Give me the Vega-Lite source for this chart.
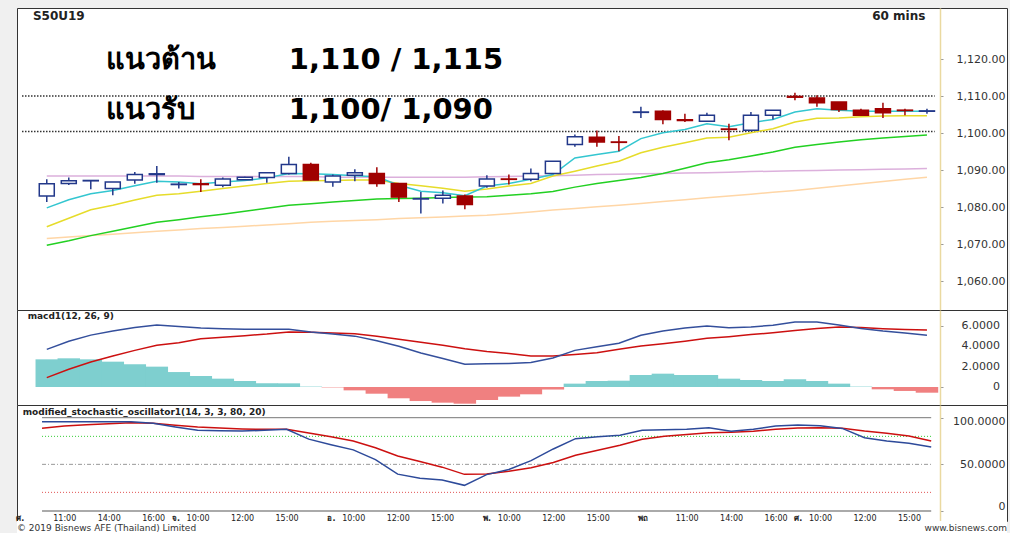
{
  "$schema": "https://vega.github.io/schema/vega-lite/v6.json",
  "background": "#f0f0f0",
  "padding": {"left": 15, "top": 7, "right": 5, "bottom": 0},
  "spacing": 0,
  "bounds": "flush",
  "config": {
    "view": {"stroke": "#333", "strokeWidth": 1, "fill": "white"},
    "font": "DejaVu Sans",
    "axis": {"labelFont": "DejaVu Sans", "labelColor": "#333", "grid": false, "zindex": 2, "labelOverlap": false, "labelSeparation": 0}
  },
  "datasets": {
    "candles": [
      {"i":1,"open":1083.0,"high":1087.5,"low":1081.4,"close":1086.3},
      {"i":2,"open":1086.4,"high":1088.0,"low":1086.0,"close":1087.1},
      {"i":3,"open":1087.1,"high":1087.3,"low":1084.8,"close":1087.2},
      {"i":4,"open":1085.0,"high":1086.8,"low":1083.2,"close":1086.8},
      {"i":5,"open":1087.3,"high":1089.5,"low":1086.3,"close":1088.8},
      {"i":6,"open":1088.8,"high":1091.1,"low":1086.6,"close":1089.0},
      {"i":7,"open":1086.1,"high":1086.8,"low":1085.0,"close":1086.2},
      {"i":8,"open":1086.3,"high":1087.5,"low":1084.1,"close":1086.1},
      {"i":9,"open":1085.9,"high":1088.0,"low":1085.4,"close":1087.6},
      {"i":10,"open":1087.4,"high":1088.2,"low":1087.3,"close":1088.1},
      {"i":11,"open":1088.0,"high":1089.4,"low":1086.6,"close":1089.3},
      {"i":12,"open":1089.1,"high":1093.6,"low":1088.8,"close":1091.5},
      {"i":13,"open":1091.5,"high":1092.0,"low":1087.2,"close":1087.3},
      {"i":14,"open":1086.8,"high":1088.8,"low":1085.5,"close":1088.4},
      {"i":15,"open":1088.6,"high":1090.2,"low":1087.0,"close":1089.3},
      {"i":16,"open":1089.1,"high":1090.8,"low":1085.5,"close":1086.4},
      {"i":17,"open":1086.4,"high":1086.5,"low":1081.4,"close":1082.7},
      {"i":18,"open":1082.2,"high":1084.1,"low":1078.3,"close":1082.3},
      {"i":19,"open":1082.4,"high":1084.5,"low":1081.0,"close":1083.2},
      {"i":20,"open":1083.0,"high":1083.4,"low":1079.4,"close":1080.7},
      {"i":21,"open":1085.7,"high":1088.6,"low":1085.2,"close":1087.6},
      {"i":22,"open":1087.6,"high":1088.8,"low":1086.1,"close":1087.5},
      {"i":23,"open":1087.5,"high":1090.4,"low":1087.0,"close":1089.1},
      {"i":24,"open":1089.1,"high":1092.4,"low":1089.1,"close":1092.4},
      {"i":25,"open":1096.9,"high":1099.6,"low":1096.3,"close":1099.0},
      {"i":26,"open":1098.9,"high":1100.7,"low":1096.3,"close":1097.6},
      {"i":27,"open":1097.6,"high":1099.2,"low":1095.1,"close":1097.5},
      {"i":28,"open":1105.6,"high":1107.1,"low":1104.1,"close":1105.7},
      {"i":29,"open":1105.9,"high":1106.2,"low":1102.4,"close":1103.7},
      {"i":30,"open":1103.6,"high":1105.2,"low":1103.0,"close":1103.4},
      {"i":31,"open":1103.2,"high":1105.5,"low":1103.2,"close":1104.8},
      {"i":32,"open":1101.1,"high":1102.5,"low":1098.1,"close":1101.0},
      {"i":33,"open":1100.8,"high":1105.7,"low":1100.5,"close":1104.8},
      {"i":34,"open":1104.8,"high":1106.2,"low":1103.7,"close":1106.2},
      {"i":35,"open":1109.9,"high":1110.9,"low":1108.9,"close":1109.7},
      {"i":36,"open":1109.5,"high":1110.2,"low":1107.1,"close":1108.2},
      {"i":37,"open":1108.4,"high":1108.4,"low":1105.7,"close":1106.4},
      {"i":38,"open":1106.2,"high":1106.6,"low":1104.8,"close":1104.8},
      {"i":39,"open":1106.6,"high":1108.2,"low":1104.1,"close":1105.5},
      {"i":40,"open":1106.2,"high":1106.6,"low":1104.8,"close":1106.1},
      {"i":41,"open":1105.9,"high":1106.6,"low":1105.2,"close":1106.0}
    ],
    "ma": [
      {"i":1,"fast":1079.8,"mid":1074.7,"slow":1069.7,"pink":1088.4,"long":1071.5},
      {"i":2,"fast":1082.0,"mid":1077.0,"slow":1070.9,"pink":1088.4,"long":1071.9},
      {"i":3,"fast":1083.6,"mid":1079.3,"slow":1072.3,"pink":1088.4,"long":1072.3},
      {"i":4,"fast":1084.5,"mid":1080.5,"slow":1073.5,"pink":1088.4,"long":1072.7},
      {"i":5,"fast":1085.8,"mid":1081.9,"slow":1074.7,"pink":1088.4,"long":1073.1},
      {"i":6,"fast":1087.0,"mid":1083.2,"slow":1075.9,"pink":1088.4,"long":1073.5},
      {"i":7,"fast":1086.8,"mid":1083.6,"slow":1076.6,"pink":1088.4,"long":1073.8},
      {"i":8,"fast":1086.3,"mid":1084.3,"slow":1077.4,"pink":1088.3,"long":1074.2},
      {"i":9,"fast":1086.8,"mid":1085.0,"slow":1078.1,"pink":1088.3,"long":1074.5},
      {"i":10,"fast":1087.2,"mid":1085.7,"slow":1078.9,"pink":1088.3,"long":1074.8},
      {"i":11,"fast":1087.9,"mid":1086.4,"slow":1079.7,"pink":1088.3,"long":1075.2},
      {"i":12,"fast":1089.1,"mid":1087.0,"slow":1080.5,"pink":1088.3,"long":1075.5},
      {"i":13,"fast":1089.0,"mid":1087.1,"slow":1080.9,"pink":1088.3,"long":1075.9},
      {"i":14,"fast":1088.8,"mid":1087.2,"slow":1081.4,"pink":1088.1,"long":1076.2},
      {"i":15,"fast":1088.5,"mid":1087.3,"slow":1081.8,"pink":1088.1,"long":1076.4},
      {"i":16,"fast":1088.2,"mid":1087.3,"slow":1082.2,"pink":1088.1,"long":1076.6},
      {"i":17,"fast":1085.9,"mid":1086.4,"slow":1082.3,"pink":1088.1,"long":1076.9},
      {"i":18,"fast":1084.3,"mid":1085.8,"slow":1082.4,"pink":1088.1,"long":1077.1},
      {"i":19,"fast":1083.9,"mid":1085.1,"slow":1082.6,"pink":1088.1,"long":1077.3},
      {"i":20,"fast":1083.1,"mid":1084.3,"slow":1082.7,"pink":1088.1,"long":1077.6},
      {"i":21,"fast":1085.7,"mid":1084.9,"slow":1082.8,"pink":1088.2,"long":1077.8},
      {"i":22,"fast":1086.4,"mid":1085.7,"slow":1083.2,"pink":1088.3,"long":1078.2},
      {"i":23,"fast":1087.5,"mid":1086.4,"slow":1083.6,"pink":1088.4,"long":1078.7},
      {"i":24,"fast":1088.8,"mid":1088.4,"slow":1084.2,"pink":1088.5,"long":1079.2},
      {"i":25,"fast":1093.3,"mid":1089.7,"slow":1085.4,"pink":1088.6,"long":1079.6},
      {"i":26,"fast":1094.2,"mid":1091.1,"slow":1086.4,"pink":1088.8,"long":1080.1},
      {"i":27,"fast":1095.1,"mid":1092.4,"slow":1087.2,"pink":1088.9,"long":1080.5},
      {"i":28,"fast":1098.5,"mid":1094.7,"slow":1088.0,"pink":1089.0,"long":1081.0},
      {"i":29,"fast":1100.1,"mid":1096.2,"slow":1089.1,"pink":1089.1,"long":1081.5},
      {"i":30,"fast":1101.0,"mid":1097.4,"slow":1090.5,"pink":1089.2,"long":1082.0},
      {"i":31,"fast":1102.5,"mid":1098.7,"slow":1092.0,"pink":1089.3,"long":1082.5},
      {"i":32,"fast":1101.7,"mid":1098.9,"slow":1092.8,"pink":1089.4,"long":1083.0},
      {"i":33,"fast":1102.8,"mid":1100.1,"slow":1093.8,"pink":1089.6,"long":1083.5},
      {"i":34,"fast":1103.7,"mid":1101.2,"slow":1094.9,"pink":1089.7,"long":1084.0},
      {"i":35,"fast":1105.7,"mid":1103.0,"slow":1096.2,"pink":1089.8,"long":1084.5},
      {"i":36,"fast":1106.6,"mid":1104.0,"slow":1096.9,"pink":1089.9,"long":1085.1},
      {"i":37,"fast":1106.2,"mid":1104.1,"slow":1097.6,"pink":1090.0,"long":1085.7},
      {"i":38,"fast":1105.9,"mid":1104.4,"slow":1098.2,"pink":1090.1,"long":1086.3},
      {"i":39,"fast":1105.9,"mid":1104.6,"slow":1098.7,"pink":1090.2,"long":1086.9},
      {"i":40,"fast":1105.9,"mid":1104.7,"slow":1099.1,"pink":1090.3,"long":1087.5},
      {"i":41,"fast":1105.9,"mid":1104.7,"slow":1099.5,"pink":1090.4,"long":1088.1}
    ],
    "macd": [
      {"i":1,"macd":3.7,"signal":0.92,"hist":2.72},
      {"i":2,"macd":4.5,"signal":1.75,"hist":2.82},
      {"i":3,"macd":5.1,"signal":2.45,"hist":2.72},
      {"i":4,"macd":5.5,"signal":3.05,"hist":2.49},
      {"i":5,"macd":5.85,"signal":3.6,"hist":2.23},
      {"i":6,"macd":6.1,"signal":4.1,"hist":2.0},
      {"i":7,"macd":5.95,"signal":4.35,"hist":1.47},
      {"i":8,"macd":5.8,"signal":4.75,"hist":1.08},
      {"i":9,"macd":5.72,"signal":4.9,"hist":0.82},
      {"i":10,"macd":5.67,"signal":5.05,"hist":0.59},
      {"i":11,"macd":5.67,"signal":5.2,"hist":0.36},
      {"i":12,"macd":5.67,"signal":5.41,"hist":0.36},
      {"i":13,"macd":5.4,"signal":5.38,"hist":0.04},
      {"i":14,"macd":5.2,"signal":5.3,"hist":-0.04},
      {"i":15,"macd":5.0,"signal":5.24,"hist":-0.33},
      {"i":16,"macd":4.55,"signal":5.0,"hist":-0.66},
      {"i":17,"macd":4.0,"signal":4.7,"hist":-1.11},
      {"i":18,"macd":3.35,"signal":4.4,"hist":-1.38},
      {"i":19,"macd":2.8,"signal":4.1,"hist":-1.54},
      {"i":20,"macd":2.23,"signal":3.77,"hist":-1.64},
      {"i":21,"macd":2.28,"signal":3.5,"hist":-1.28},
      {"i":22,"macd":2.32,"signal":3.3,"hist":-0.95},
      {"i":23,"macd":2.4,"signal":3.05,"hist":-0.72},
      {"i":24,"macd":2.85,"signal":3.05,"hist":-0.25},
      {"i":25,"macd":3.6,"signal":3.2,"hist":0.33},
      {"i":26,"macd":3.95,"signal":3.37,"hist":0.59},
      {"i":27,"macd":4.3,"signal":3.7,"hist":0.62},
      {"i":28,"macd":5.08,"signal":4.03,"hist":1.18},
      {"i":29,"macd":5.5,"signal":4.25,"hist":1.31},
      {"i":30,"macd":5.8,"signal":4.5,"hist":1.18},
      {"i":31,"macd":6.0,"signal":4.79,"hist":1.18},
      {"i":32,"macd":5.83,"signal":4.95,"hist":0.82},
      {"i":33,"macd":5.9,"signal":5.15,"hist":0.69},
      {"i":34,"macd":6.07,"signal":5.34,"hist":0.59},
      {"i":35,"macd":6.4,"signal":5.55,"hist":0.76},
      {"i":36,"macd":6.4,"signal":5.75,"hist":0.59},
      {"i":37,"macd":6.1,"signal":5.9,"hist":0.33},
      {"i":38,"macd":5.75,"signal":5.85,"hist":0.04},
      {"i":39,"macd":5.5,"signal":5.73,"hist":-0.23},
      {"i":40,"macd":5.3,"signal":5.65,"hist":-0.39},
      {"i":41,"macd":5.08,"signal":5.6,"hist":-0.56}
    ],
    "macdticks": [
      {"tick": 0, "label": "0"},
      {"tick": 2, "label": "2.0000"},
      {"tick": 4, "label": "4.0000"},
      {"tick": 6, "label": "6.0000"}
    ],
    "stoch": [
      {"i":1,"k":95.7,"d":88.6},{"i":2,"k":95.7,"d":91.2},{"i":3,"k":95.7,"d":92.5},
      {"i":4,"k":95.7,"d":93.5},{"i":5,"k":95.7,"d":94.5},{"i":6,"k":94.0,"d":94.0},
      {"i":7,"k":90.0,"d":92.0},{"i":8,"k":86.5,"d":90.0},{"i":9,"k":86.0,"d":89.0},
      {"i":10,"k":85.7,"d":88.0},{"i":11,"k":86.5,"d":87.5},{"i":12,"k":87.5,"d":87.5},
      {"i":13,"k":77.0,"d":83.5},{"i":14,"k":71.0,"d":79.5},{"i":15,"k":65.5,"d":75.0},
      {"i":16,"k":55.0,"d":67.8},{"i":17,"k":39.5,"d":59.0},{"i":18,"k":35.0,"d":53.0},
      {"i":19,"k":33.2,"d":47.0},{"i":20,"k":27.5,"d":39.3},{"i":21,"k":39.0,"d":39.6},
      {"i":22,"k":44.5,"d":42.5},{"i":23,"k":54.0,"d":46.3},{"i":24,"k":66.5,"d":52.0},
      {"i":25,"k":77.5,"d":59.7},{"i":26,"k":79.6,"d":65.0},{"i":27,"k":81.1,"d":70.5},
      {"i":28,"k":86.5,"d":76.8},{"i":29,"k":87.1,"d":80.2},{"i":30,"k":87.5,"d":82.0},
      {"i":31,"k":89.3,"d":83.9},{"i":32,"k":85.5,"d":84.5},{"i":33,"k":87.5,"d":85.5},
      {"i":34,"k":91.0,"d":87.5},{"i":35,"k":92.2,"d":89.0},{"i":36,"k":91.3,"d":89.3},
      {"i":37,"k":88.5,"d":88.7},{"i":38,"k":78.5,"d":85.7},{"i":39,"k":75.0,"d":83.3},
      {"i":40,"k":72.6,"d":80.4},{"i":41,"k":68.6,"d":75.0}
    ],
    "mainlevels": [{"level": 1110}, {"level": 1100.4}],
    "stochtop": [{"level": 100}],
    "stoch80": [{"level": 80}],
    "stoch50": [{"level": 50}],
    "stoch20": [{"level": 20}],
    "stoch0": [{"level": 0}],
    "one": [{"n": 1}]
  },
  "vconcat": [
    {
      "width": 990,
      "height": 302,
      "layer": [
        {
          "data": {"name": "mainlevels"},
          "mark": {"type": "rule", "color": "#333", "strokeDash": [1.5, 1.5], "strokeWidth": 1.5},
          "encoding": {
            "x": {"datum": -0.126, "type": "quantitative", "scale": {"domain": [-0.126, 44.41], "nice": false, "zero": false}, "axis": null},
            "x2": {"datum": 41.35},
            "y": {"field": "level", "type": "quantitative", "title": null, "scale": {"domain": [1052.2, 1133.8], "nice": false, "zero": false},
              "axis": {"orient": "right", "offset": -67, "title": null, "values": [1060, 1070, 1080, 1090, 1100, 1110, 1120], "format": ",.2f", "labelAlign": "right", "labelBaseline": "middle", "labelPadding": 62, "tickSize": 3, "tickColor": "#999", "domainColor": "#ead9a0", "domainWidth": 1.5, "labelFontSize": 11, "labelFlush": false, "labelOverlap": false}}
          }
        },
        {"data": {"name": "ma"}, "mark": {"type": "line", "color": "#ffd6a6", "strokeWidth": 1.5}, "encoding": {"x": {"field": "i", "type": "quantitative", "title": null}, "y": {"field": "long", "type": "quantitative", "title": null}}},
        {"data": {"name": "ma"}, "mark": {"type": "line", "color": "#dcb0dc", "strokeWidth": 1.5}, "encoding": {"x": {"field": "i", "type": "quantitative", "title": null}, "y": {"field": "pink", "type": "quantitative", "title": null}}},
        {"data": {"name": "ma"}, "mark": {"type": "line", "color": "#22d022", "strokeWidth": 1.5}, "encoding": {"x": {"field": "i", "type": "quantitative", "title": null}, "y": {"field": "slow", "type": "quantitative", "title": null}}},
        {"data": {"name": "ma"}, "mark": {"type": "line", "color": "#e6dc2a", "strokeWidth": 1.5}, "encoding": {"x": {"field": "i", "type": "quantitative", "title": null}, "y": {"field": "mid", "type": "quantitative", "title": null}}},
        {"data": {"name": "ma"}, "mark": {"type": "line", "color": "#33c6d0", "strokeWidth": 1.5}, "encoding": {"x": {"field": "i", "type": "quantitative", "title": null}, "y": {"field": "fast", "type": "quantitative", "title": null}}},
        {
          "data": {"name": "candles"},
          "mark": {"type": "rule", "strokeWidth": 1.5},
          "encoding": {
            "x": {"field": "i", "type": "quantitative", "title": null},
            "y": {"field": "low", "type": "quantitative", "title": null},
            "y2": {"field": "high"},
            "stroke": {"condition": {"test": "datum.close >= datum.open", "value": "#22388a"}, "value": "#a00000"}
          }
        },
        {
          "data": {"name": "candles"},
          "mark": {"type": "bar", "size": 15, "strokeWidth": 1.5},
          "encoding": {
            "x": {"field": "i", "type": "quantitative", "title": null},
            "y": {"field": "open", "type": "quantitative", "title": null},
            "y2": {"field": "close"},
            "fill": {"condition": {"test": "datum.close >= datum.open", "value": "white"}, "value": "#a00000"},
            "stroke": {"condition": {"test": "datum.close >= datum.open", "value": "#22388a"}, "value": "#a00000"}
          }
        },
        {"data": {"name": "one"}, "mark": {"type": "text", "text": "S50U19", "align": "left", "baseline": "alphabetic", "fontWeight": "bold", "fontSize": 12, "color": "#222"}, "encoding": {"x": {"datum": 0.37, "type": "quantitative"}, "y": {"datum": 1130.5, "type": "quantitative"}}},
        {"data": {"name": "one"}, "mark": {"type": "text", "text": "60 mins", "align": "right", "baseline": "alphabetic", "fontWeight": "bold", "fontSize": 12, "color": "#222"}, "encoding": {"x": {"datum": 40.93, "type": "quantitative"}, "y": {"datum": 1130.5, "type": "quantitative"}}},
        {"data": {"name": "one"}, "mark": {"type": "text", "text": "แนวต้าน", "align": "left", "baseline": "alphabetic", "fontWeight": "bold", "fontSize": 29, "color": "#000"}, "encoding": {"x": {"datum": 3.7, "type": "quantitative"}, "y": {"datum": 1117.3, "type": "quantitative"}}},
        {"data": {"name": "one"}, "mark": {"type": "text", "text": "1,110 / 1,115", "align": "left", "baseline": "alphabetic", "fontWeight": "bold", "fontSize": 29, "color": "#000"}, "encoding": {"x": {"datum": 12.0, "type": "quantitative"}, "y": {"datum": 1117.3, "type": "quantitative"}}},
        {"data": {"name": "one"}, "mark": {"type": "text", "text": "แนวรับ", "align": "left", "baseline": "alphabetic", "fontWeight": "bold", "fontSize": 29, "color": "#000"}, "encoding": {"x": {"datum": 3.7, "type": "quantitative"}, "y": {"datum": 1103.8, "type": "quantitative"}}},
        {"data": {"name": "one"}, "mark": {"type": "text", "text": "1,100/ 1,090", "align": "left", "baseline": "alphabetic", "fontWeight": "bold", "fontSize": 29, "color": "#000"}, "encoding": {"x": {"datum": 12.0, "type": "quantitative"}, "y": {"datum": 1103.8, "type": "quantitative"}}}
      ]
    },
    {
      "width": 990,
      "height": 95,
      "layer": [
        {
          "data": {"name": "macd"},
          "mark": {"type": "bar", "size": 22.5},
          "encoding": {
            "x": {"field": "i", "type": "quantitative", "scale": {"domain": [-0.126, 44.41], "nice": false, "zero": false}, "axis": null},
            "y": {"field": "hist", "type": "quantitative", "title": null, "scale": {"domain": [-1.77, 7.57], "nice": false, "zero": false},
              "axis": {"orient": "right", "offset": -67, "title": null, "values": [0, 2, 4, 6], "labels": false, "tickSize": 3, "tickColor": "#999", "domainColor": "#ead9a0", "domainWidth": 1.5}},
            "color": {"condition": {"test": "datum.hist >= 0", "value": "#7ecfcf"}, "value": "#f08080"}
          }
        },
        {"data": {"name": "macd"}, "mark": {"type": "line", "color": "#cc1010", "strokeWidth": 1.5}, "encoding": {"x": {"field": "i", "type": "quantitative", "title": null}, "y": {"field": "signal", "type": "quantitative", "title": null}}},
        {"data": {"name": "macd"}, "mark": {"type": "line", "color": "#344f9c", "strokeWidth": 1.5}, "encoding": {"x": {"field": "i", "type": "quantitative", "title": null}, "y": {"field": "macd", "type": "quantitative", "title": null}}},
        {"data": {"name": "macdticks"}, "mark": {"type": "text", "align": "right", "baseline": "middle", "fontSize": 11, "color": "#333"}, "encoding": {"x": {"datum": 44.32, "type": "quantitative"}, "y": {"field": "tick", "type": "quantitative", "title": null}, "text": {"field": "label"}}},
        {"data": {"name": "one"}, "mark": {"type": "text", "text": "macd1(12, 26, 9)", "align": "left", "baseline": "alphabetic", "fontWeight": "bold", "fontSize": 9, "color": "#222"}, "encoding": {"x": {"datum": 0.13, "type": "quantitative"}, "y": {"datum": 6.68, "type": "quantitative"}}}
      ]
    },
    {
      "width": 990,
      "height": 116,
      "layer": [
        {
          "data": {"name": "stochtop"},
          "mark": {"type": "rule", "color": "#777", "strokeWidth": 1},
          "encoding": {
            "x": {"datum": 1, "type": "quantitative", "title": null, "scale": {"domain": [-0.126, 44.41], "nice": false, "zero": false},
              "axis": {"orient": "bottom", "offset": -10, "title": null, "values": [0, 2, 4, 6, 7, 8, 10, 12, 14, 15, 17, 19, 21, 22, 24, 26, 28, 30, 32, 34, 35, 36, 38, 40],
                "labelExpr": "['ศ.','','11:00','','14:00','','16:00','จ.','10:00','','12:00','','15:00','','อ.','10:00','','12:00','','15:00','','พ.','10:00','','12:00','','15:00','','พฤ','','11:00','','14:00','','16:00','ศ.','10:00','','12:00','','15:00',''][datum.value]",
                "domain": false, "ticks": false, "labelPadding": 3, "labelBaseline": "top", "labelFontSize": 8, "labelColor": "#222",
                "labelFontWeight": {"condition": {"test": "datum.value % 7 == 0", "value": "bold"}, "value": "normal"},
                "labelFlush": false, "labelOverlap": false, "labelBound": false}},
            "x2": {"datum": 41},
            "y": {"field": "level", "type": "quantitative", "title": null, "scale": {"domain": [-10.7, 113.6], "nice": false, "zero": false},
              "axis": {"orient": "right", "offset": -67, "title": null, "values": [0, 50, 100], "labelExpr": "datum.value == 0 ? '0' : format(datum.value, '.4f')", "labelAlign": "right",
                "labelBaseline": {"condition": {"test": "datum.value == 0", "value": "bottom"}, "value": "middle"},
                "labelOffset": {"condition": {"test": "datum.value == 100", "value": 4}, "value": 0},
                "labelPadding": 62, "tickSize": 3, "tickColor": "#999", "domainColor": "#ead9a0", "domainWidth": 1.5, "labelFontSize": 11, "labelFlush": false, "labelOverlap": false}}
          }
        },
        {"data": {"name": "stoch80"}, "mark": {"type": "rule", "color": "#33cc33", "strokeWidth": 1, "strokeDash": [1, 2]}, "encoding": {"x": {"datum": 1, "type": "quantitative", "title": null}, "x2": {"datum": 41}, "y": {"field": "level", "type": "quantitative", "title": null}}},
        {"data": {"name": "stoch50"}, "mark": {"type": "rule", "color": "#999", "strokeWidth": 1, "strokeDash": [4, 2, 1, 2]}, "encoding": {"x": {"datum": 1, "type": "quantitative", "title": null}, "x2": {"datum": 41}, "y": {"field": "level", "type": "quantitative", "title": null}}},
        {"data": {"name": "stoch20"}, "mark": {"type": "rule", "color": "#e05050", "strokeWidth": 1, "strokeDash": [1, 2]}, "encoding": {"x": {"datum": 1, "type": "quantitative", "title": null}, "x2": {"datum": 41}, "y": {"field": "level", "type": "quantitative", "title": null}}},
        {"data": {"name": "stoch0"}, "mark": {"type": "rule", "color": "#aaa", "strokeWidth": 2}, "encoding": {"x": {"datum": 1, "type": "quantitative", "title": null}, "x2": {"datum": 41}, "y": {"field": "level", "type": "quantitative", "title": null}}},
        {"data": {"name": "stoch"}, "mark": {"type": "line", "color": "#cc1010", "strokeWidth": 1.5}, "encoding": {"x": {"field": "i", "type": "quantitative", "title": null}, "y": {"field": "d", "type": "quantitative", "title": null}}},
        {"data": {"name": "stoch"}, "mark": {"type": "line", "color": "#2d4a9a", "strokeWidth": 1.5}, "encoding": {"x": {"field": "i", "type": "quantitative", "title": null}, "y": {"field": "k", "type": "quantitative", "title": null}}},
        {"data": {"name": "one"}, "mark": {"type": "text", "text": "modified_stochastic_oscillator1(14, 3, 3, 80, 20)", "align": "left", "baseline": "alphabetic", "fontWeight": "bold", "fontSize": 9, "color": "#222"}, "encoding": {"x": {"datum": 0.13, "type": "quantitative"}, "y": {"datum": 102.4, "type": "quantitative"}}}
      ]
    },
    {
      "width": 990,
      "height": 13,
      "view": {"stroke": null, "fill": "white"},
      "encoding": {"x": {"field": "side", "type": "nominal", "scale": {"type": "point", "padding": 0, "domain": ["left", "right"]}, "axis": null}},
      "layer": [
        {"data": {"values": [{"side": "left", "note": "© 2019 Bisnews AFE (Thailand) Limited"}]}, "mark": {"type": "text", "align": "left", "fontSize": 9, "color": "#333"}, "encoding": {"text": {"field": "note"}}},
        {"data": {"values": [{"side": "right", "note": "www.bisnews.com"}]}, "mark": {"type": "text", "align": "right", "fontSize": 9, "color": "#333"}, "encoding": {"text": {"field": "note"}}}
      ]
    }
  ]
}
